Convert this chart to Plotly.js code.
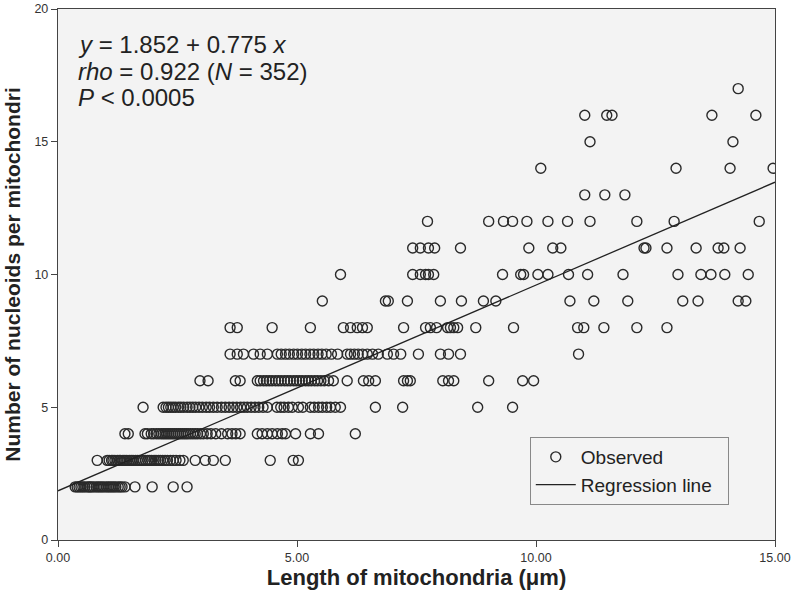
<!DOCTYPE html>
<html>
<head>
<meta charset="utf-8">
<script src="https://cdn.plot.ly/plotly-3.0.1.min.js"></script>
<style>html,body{margin:0;padding:0;background:#fff;}#chart{width:793px;height:598px;}</style>
</head>
<body>
<div id="chart"></div>
<script>
// Observed mitochondria lengths (µm), grouped by number of nucleoids
const len_n2 = [0.36,0.40,0.44,0.48,0.52,0.56,0.61,0.65,0.67,0.71,0.75,0.80,0.84,0.88,0.92,0.96,1.01,1.05,1.09,1.13,1.17,1.21,1.26,1.30,1.34,1.40,1.61,1.97,2.41,2.70];
const len_n3 = [0.82,1.03,1.07,1.12,1.15,1.19,1.24,1.28,1.31,1.36,1.40,1.44,1.49,1.53,1.57,1.62,1.66,1.70,1.74,1.78,1.83,1.88,1.92,1.96,2.01,2.05,2.10,2.14,2.19,2.24,2.29,2.35,2.41,2.47,2.55,2.62,2.87,3.08,3.25,3.50,4.44,4.92,5.03];
const len_n4 = [1.40,1.47,1.82,1.87,1.95,2.00,2.06,2.11,2.16,2.20,2.24,2.28,2.32,2.36,2.40,2.44,2.48,2.52,2.56,2.60,2.64,2.68,2.72,2.77,2.82,2.87,2.92,2.98,3.04,3.12,3.20,3.30,3.42,3.55,3.64,3.72,3.81,4.17,4.27,4.38,4.48,4.59,4.69,4.76,4.97,5.28,5.45,6.22];
const len_n5 = [1.78,2.20,2.26,2.31,2.36,2.41,2.46,2.52,2.57,2.63,2.70,2.76,2.82,2.88,2.95,3.02,3.10,3.17,3.25,3.33,3.42,3.50,3.58,3.66,3.74,3.82,3.89,3.96,4.04,4.12,4.20,4.29,4.38,4.58,4.66,4.73,4.82,4.90,5.03,5.12,5.28,5.36,5.45,5.53,5.62,5.70,5.80,5.91,6.64,7.21,8.78,9.51];
const len_n6 = [2.97,3.14,3.71,3.81,4.17,4.23,4.30,4.36,4.42,4.48,4.55,4.61,4.67,4.74,4.80,4.86,4.93,4.99,5.05,5.11,5.18,5.24,5.30,5.37,5.43,5.50,5.57,5.66,5.76,6.05,6.39,6.50,6.64,7.23,7.31,7.37,8.05,8.17,8.28,9.01,9.72,9.95];
const len_n7 = [3.60,3.75,3.88,4.09,4.23,4.38,4.59,4.67,4.76,4.84,4.93,5.01,5.10,5.18,5.27,5.35,5.44,5.52,5.61,5.72,5.85,6.05,6.12,6.20,6.28,6.37,6.47,6.58,6.70,6.89,7.02,7.17,7.54,8.00,8.17,8.42,10.89];
const len_n8 = [3.60,3.75,4.48,5.28,5.97,6.12,6.26,6.37,6.47,7.23,7.69,7.79,7.92,8.15,8.21,8.28,8.36,8.74,9.53,10.87,11.00,11.42,12.11,12.74];
const len_n9 = [5.53,6.85,6.91,7.31,8.00,8.44,8.90,9.16,10.71,11.21,11.92,13.07,13.39,14.23,14.39];
const len_n10 = [5.91,7.42,7.58,7.69,7.75,7.86,9.30,9.68,9.74,10.04,10.25,10.68,11.08,11.82,12.97,13.45,13.66,13.95,14.44];
const len_n11 = [7.42,7.58,7.75,7.88,8.42,9.85,10.35,10.52,12.26,12.30,12.74,13.35,13.81,13.93,14.27];
const len_n12 = [7.73,9.01,9.32,9.51,9.81,10.25,10.66,11.13,12.11,12.89,14.67];
const len_n13 = [11.02,11.44,11.86];
const len_n14 = [10.10,12.93,14.06,14.96];
const len_n15 = [11.13,14.12];
const len_n16 = [11.02,11.48,11.59,13.68,14.60];
const len_n17 = [14.23];

const nucleoidCounts = [2,3,4,5,6,7,8,9,10,11,12,13,14,15,16,17];
const lengthsByCount = [len_n2,len_n3,len_n4,len_n5,len_n6,len_n7,len_n8,len_n9,len_n10,len_n11,len_n12,len_n13,len_n14,len_n15,len_n16,len_n17];

// Regression: y = 1.852 + 0.775 x
const regIntercept = 1.852;
const regSlope = 0.775;
const regX = [0, 15];

const xTickVals = [0, 5, 10, 15];
const xTickText = ['0.00', '5.00', '10.00', '15.00'];
const yTickVals = [0, 5, 10, 15, 20];

const obsX = [], obsY = [];
lengthsByCount.forEach((arr, i) => arr.forEach(v => { obsX.push(v); obsY.push(nucleoidCounts[i]); }));
const regY = regX.map(x => regIntercept + regSlope * x);

const FONT = '"Liberation Sans", Arial, Helvetica, sans-serif';

const traces = [
  {x: obsX, y: obsY, type: 'scatter', mode: 'markers', name: 'Observed',
   marker: {symbol: 'circle-open', size: 10, color: '#2a2a2a', line: {width: 1.4, color: '#2a2a2a'}}},
  {x: regX, y: regY, type: 'scatter', mode: 'lines', name: 'Regression line\u00a0\u00a0',
   line: {color: '#222', width: 1.3}}
];

const layout = {
  width: 793, height: 598,
  margin: {l: 58, r: 18, t: 9, b: 58},
  paper_bgcolor: '#ffffff',
  plot_bgcolor: '#f3f3f3',
  font: {family: FONT, color: '#222'},
  showlegend: true,
  legend: {x: 0.658, y: 0.194, xanchor: 'left', yanchor: 'top',
    bgcolor: '#f3f3f3', bordercolor: '#888', borderwidth: 1, itemwidth: 40,
    font: {size: 19, family: FONT, color: '#222'}, tracegroupgap: 0},
  xaxis: {range: [0, 15], tickvals: xTickVals, ticktext: xTickText,
    showgrid: false, zeroline: false, showline: true, linecolor: '#444', linewidth: 1.2, mirror: true,
    ticks: 'outside', ticklen: 6, tickcolor: '#444', tickfont: {size: 12.5, color: '#333'},
    title: {text: '<b>Length of mitochondria (μm)</b>', font: {size: 22, color: '#222'}, standoff: 5}},
  yaxis: {range: [0, 20], tickvals: yTickVals,
    showgrid: false, zeroline: false, showline: true, linecolor: '#444', linewidth: 1.2, mirror: true,
    ticks: 'outside', ticklen: 6, tickcolor: '#444', tickfont: {size: 12.5, color: '#333'},
    title: {text: '<b>Number of nucleoids per mitochondri</b>', font: {size: 21, color: '#222'}, standoff: 8}},
  annotations: [
    {xref: 'paper', yref: 'paper', x: 0.025, y: 0.934, xanchor: 'left', yanchor: 'middle', showarrow: false,
     text: '<i>y</i> = 1.852 + 0.775 <i>x</i>', font: {size: 24, family: FONT, color: '#222'}},
    {xref: 'paper', yref: 'paper', x: 0.025, y: 0.883, xanchor: 'left', yanchor: 'middle', showarrow: false,
     text: '<i>rho</i> = 0.922 (<i>N</i> = 352)', font: {size: 24, family: FONT, color: '#222'}},
    {xref: 'paper', yref: 'paper', x: 0.025, y: 0.834, xanchor: 'left', yanchor: 'middle', showarrow: false,
     text: '<i>P</i> < 0.0005', font: {size: 24, family: FONT, color: '#222'}}
  ]
};

Plotly.newPlot('chart', traces, layout, {displayModeBar: false, staticPlot: true});
</script>
</body>
</html>
